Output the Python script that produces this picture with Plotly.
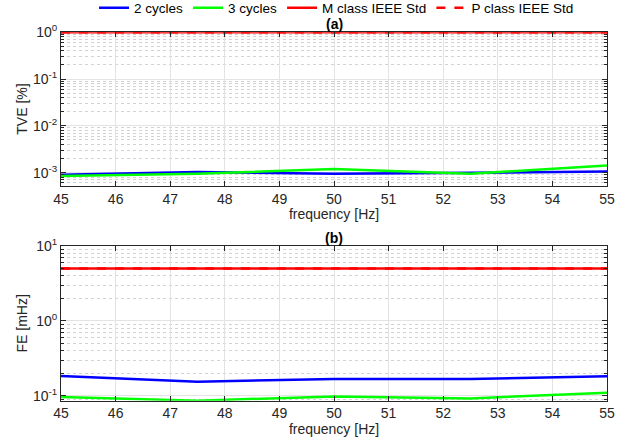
import plotly.graph_objects as go
from plotly.subplots import make_subplots

# frequency sweep points [Hz]
freq = [45, 47.5, 50, 52.5, 55]

# total vector error [%]
tve_2cyc = [0.00090, 0.00103, 0.00094, 0.00100, 0.00105]
tve_3cyc = [0.00085, 0.00094, 0.00120, 0.00095, 0.00142]
tve_limit_m = 1.0
tve_limit_p = 1.0

# frequency error [mHz]
fe_2cyc = [0.183, 0.154, 0.167, 0.167, 0.182]
fe_3cyc = [0.096, 0.086, 0.098, 0.092, 0.110]
fe_limit_m = 5.0
fe_limit_p = 5.0

x_ticks = [45, 46, 47, 48, 49, 50, 51, 52, 53, 54, 55]
tve_ticks = [1e-3, 1e-2, 1e-1, 1e0]
tve_ticktext = ["10<sup>-3</sup>", "10<sup>-2</sup>", "10<sup>-1</sup>", "10<sup>0</sup>"]
fe_ticks = [1e-1, 1e0, 1e1]
fe_ticktext = ["10<sup>-1</sup>", "10<sup>0</sup>", "10<sup>1</sup>"]

BLUE = "#0000ff"
GREEN = "#00ff00"
RED = "#ff0000"
FONT = "Liberation Sans, Arial, sans-serif"
FS = 14

fig = make_subplots(rows=2, cols=1)

def add_panel(row, y2, y3, ym, yp, show):
    fig.add_trace(go.Scatter(x=freq, y=y2, mode="lines", name="2 cycles",
                             line=dict(color=BLUE, width=2.5), showlegend=show), row=row, col=1)
    fig.add_trace(go.Scatter(x=freq, y=y3, mode="lines", name="3 cycles",
                             line=dict(color=GREEN, width=2.5), showlegend=show), row=row, col=1)
    fig.add_trace(go.Scatter(x=[freq[0], freq[-1]], y=[ym, ym], mode="lines", name="M class IEEE Std",
                             line=dict(color=RED, width=2.5), showlegend=show), row=row, col=1)
    fig.add_trace(go.Scatter(x=[freq[0], freq[-1]], y=[yp, yp], mode="lines", name="P class IEEE Std",
                             line=dict(color=RED, width=2.5, dash="dash"), showlegend=show), row=row, col=1)

add_panel(1, tve_2cyc, tve_3cyc, tve_limit_m, tve_limit_p, True)
add_panel(2, fe_2cyc, fe_3cyc, fe_limit_m, fe_limit_p, False)

xcommon = dict(range=[45, 55], tickmode="array", tickvals=x_ticks, ticks="inside", ticklen=5,
               tickcolor="#262626", automargin=False,
               showline=True, linecolor="#262626", linewidth=1, mirror="allticks",
               showgrid=True, gridcolor="#e3e3e3", gridwidth=1, zeroline=False,
               tickfont=dict(size=FS, color="#262626", family=FONT),
               title=dict(text="frequency [Hz]", font=dict(size=FS, color="#262626", family=FONT), standoff=2))
fig.update_xaxes(**xcommon, domain=[0.0961, 0.9559], row=1, col=1)
fig.update_xaxes(**xcommon, domain=[0.0961, 0.9559], row=2, col=1)

ycommon = dict(type="log", tickmode="array",
               ticks="inside", ticklen=5, tickcolor="#262626", automargin=False,
               showline=True, linecolor="#262626", linewidth=1, mirror="allticks",
               showgrid=True, gridcolor="#e3e3e3", gridwidth=1, zeroline=False,
               tickfont=dict(size=FS, color="#262626", family=FONT),
               minor=dict(tickmode="linear", dtick="D1", ticks="inside", ticklen=3, tickcolor="#262626",
                          showgrid=True, gridcolor="#d2d2d2", griddash="dot", gridwidth=1))
fig.update_yaxes(**ycommon, range=[-3.28, 0.0], domain=[0.5808, 0.9271],
                 tickvals=tve_ticks, ticktext=tve_ticktext,
                 title=dict(text="TVE [%]", font=dict(size=FS, color="#262626", family=FONT), standoff=2),
                 row=1, col=1)
fig.update_yaxes(**ycommon, range=[-1.066, 1.0], domain=[0.0955, 0.4447],
                 tickvals=fe_ticks, ticktext=fe_ticktext,
                 title=dict(text="FE [mHz]", font=dict(size=FS, color="#262626", family=FONT), standoff=2),
                 row=2, col=1)

fig.add_annotation(text="<b>(a)</b>", xref="paper", yref="paper", x=0.526, y=0.9271,
                   yanchor="bottom", yshift=-2, showarrow=False,
                   font=dict(size=FS, color="#000000", family=FONT))
fig.add_annotation(text="<b>(b)</b>", xref="paper", yref="paper", x=0.526, y=0.4447,
                   yanchor="bottom", yshift=-2, showarrow=False,
                   font=dict(size=FS, color="#000000", family=FONT))

fig.update_layout(
    width=635, height=443,
    margin=dict(l=0, r=0, t=0, b=0, autoexpand=False),
    paper_bgcolor="white", plot_bgcolor="white",
    font=dict(family=FONT, color="#262626"),
    legend=dict(orientation="h", x=0.53, xanchor="center", y=0.982, yanchor="middle",
                font=dict(size=13.5, color="#000000", family=FONT),
                itemwidth=30, tracegroupgap=0, bgcolor="rgba(0,0,0,0)"),
)

fig.write_html("out.html")
